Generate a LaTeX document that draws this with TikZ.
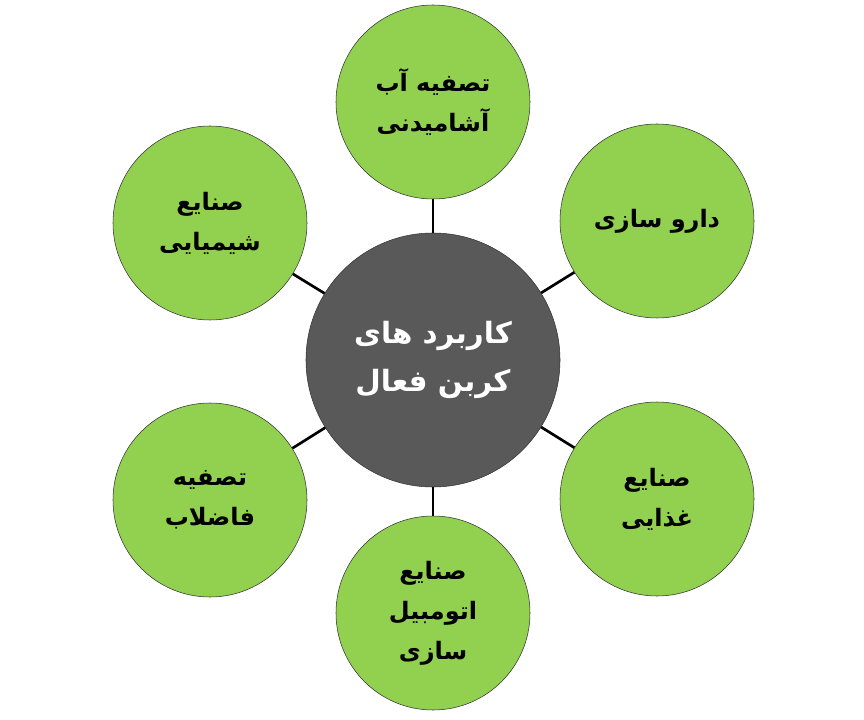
\documentclass[tikz,border=0pt]{standalone}
\usepackage{fontspec}
\newfontfamily\arabicfont[Script=Arabic]{DejaVu Sans}
\TeXXeTstate=1
\definecolor{sabz}{HTML}{92D050}
\definecolor{toosi}{HTML}{595959}
\begin{document}
\begin{tikzpicture}[x=0.75pt,y=-0.75pt,
        kenar/.style={circle,draw=black!80,thin,fill=sabz,minimum size=145.5pt,inner sep=0pt,align=center,
            font=\arabicfont\bfseries\fontsize{18}{30}\selectfont},
        markaz/.style={circle,draw=black!80,thin,fill=toosi,text=white,minimum size=190.5pt,inner sep=0pt,align=center,
            font=\arabicfont\bfseries\fontsize{22}{36}\selectfont},
        khat/.style={line width=2pt,black}]
        \useasboundingbox (0,0) rectangle (864,720);
        \node[markaz] (karbord) at (433,360) {\beginR کاربرد های\endR\\\beginR کربن فعال\endR};
        \node[kenar] (ab) at (433,102) {\beginR تصفیه آب\endR\\\beginR آشامیدنی\endR};
        \node[kenar] (daru) at (657,221) {\beginR دارو سازی\endR};
        \node[kenar] (ghaza) at (657,499) {\beginR صنایع\endR\\\beginR غذایی\endR};
        \node[kenar] (khodro) at (433,613) {\beginR صنایع\endR\\\beginR اتومبیل\endR\\\beginR سازی\endR};
        \node[kenar] (fazelab) at (210,500) {\beginR تصفیه\endR\\\beginR فاضلاب\endR};
        \node[kenar] (shimi) at (210,223) {\beginR صنایع\endR\\\beginR شیمیایی\endR};
        % khat-ha
        \draw[khat] (karbord) -- (ab); \draw[khat] (karbord) -- (daru); \draw[khat] (karbord) -- (ghaza);
        \draw[khat] (karbord) -- (khodro); \draw[khat] (karbord) -- (fazelab); \draw[khat] (karbord) -- (shimi);
    \end{tikzpicture}
\end{document}
